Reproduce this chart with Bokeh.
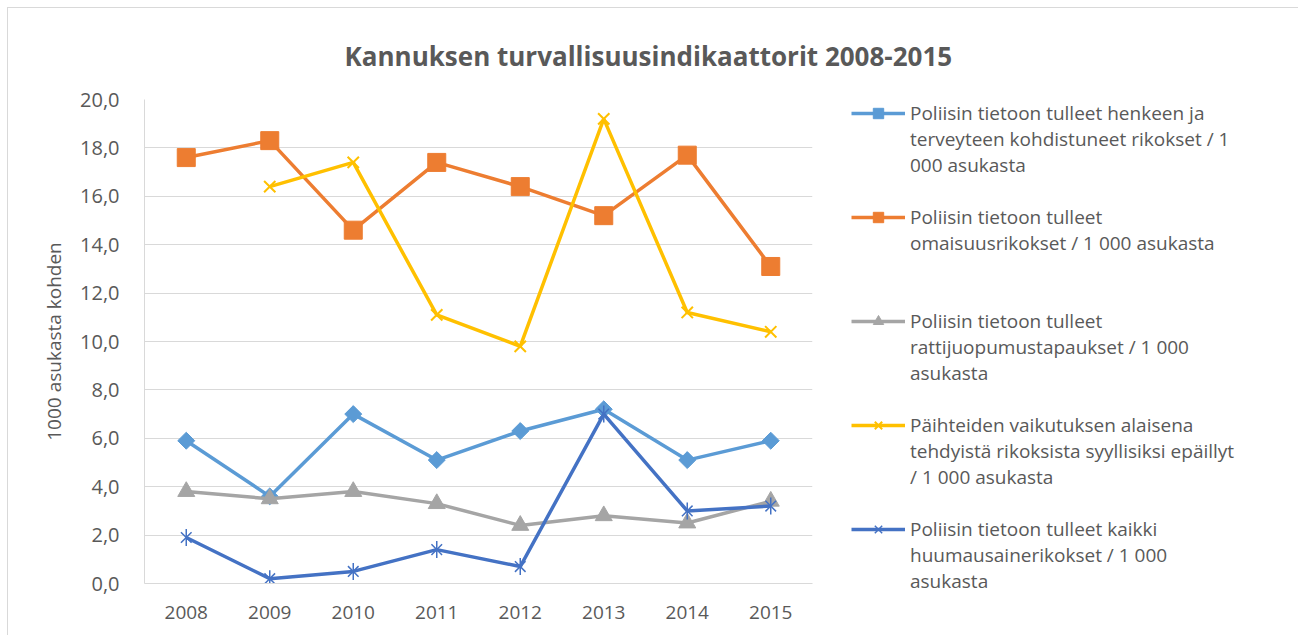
import math
from bokeh.plotting import figure
from bokeh.models import (FactorRange, Range1d, FixedTicker, Legend, LegendItem,
                          Title, CustomJSTickFormatter)
from bokeh.embed import file_html
from bokeh.resources import INLINE

nan = float("nan")

years = ["2008", "2009", "2010", "2011", "2012", "2013", "2014", "2015"]
henkeen = [5.9, 3.6, 7.0, 5.1, 6.3, 7.2, 5.1, 5.9]
omaisuus = [17.6, 18.3, 14.6, 17.4, 16.4, 15.2, 17.7, 13.1]
ratti = [3.8, 3.5, 3.8, 3.3, 2.4, 2.8, 2.5, 3.4]
paihteet = [nan, 16.4, 17.4, 11.1, 9.8, 19.2, 11.2, 10.4]
huumaus = [1.9, 0.2, 0.5, 1.4, 0.7, 7.0, 3.0, 3.2]

y_ticks = [0, 2, 4, 6, 8, 10, 12, 14, 16, 18, 20]

title_text = "Kannuksen turvallisuusindikaattorit 2008-2015"
y_label = "1000 asukasta kohden"
# legend texts, one list of wrapped lines per series
legend_lines = [
    ["Poliisin tietoon tulleet henkeen ja", "terveyteen kohdistuneet rikokset / 1", "000 asukasta"],
    ["Poliisin tietoon tulleet", "omaisuusrikokset / 1 000 asukasta"],
    ["Poliisin tietoon tulleet", "rattijuopumustapaukset / 1 000", "asukasta"],
    ["Päihteiden vaikutuksen alaisena", "tehdyistä rikoksista syyllisiksi epäillyt", "/ 1 000 asukasta"],
    ["Poliisin tietoon tulleet kaikki", "huumausainerikokset / 1 000", "asukasta"],
]

FONT = "Open Sans"
TXT = "#595959"
GRID = "#d9d9d9"

p = figure(x_range=FactorRange(*years), y_range=Range1d(0, 20),
           width=1286, height=627, frame_width=668, frame_height=484,
           output_backend="svg", toolbar_location=None,
           min_border_left=136, min_border_right=482, min_border_top=91,
           min_border_bottom=52)
p.styles = {"margin-left": "7px", "margin-top": "7px",
            "border": "1px solid #d9d9d9", "border-bottom": "none"}
p.outline_line_color = None
p.background_fill_color = "white"

p.ygrid.ticker = FixedTicker(ticks=y_ticks)
p.ygrid.grid_line_color = GRID
p.ygrid.grid_line_width = 1
p.xgrid.grid_line_color = None

ya = p.yaxis[0]
ya.ticker = FixedTicker(ticks=y_ticks)
ya.formatter = CustomJSTickFormatter(code="return tick.toFixed(1).replace('.', ',');")
ya.major_tick_line_color = None
ya.minor_tick_line_color = None
ya.axis_line_color = GRID
ya.major_label_standoff = 19
ya.major_label_text_font = FONT
ya.major_label_text_font_size = "20px"
ya.major_label_text_color = TXT
ya.axis_label = y_label
ya.axis_label_text_font = FONT
ya.axis_label_text_font_size = "19px"
ya.axis_label_text_font_style = "normal"
ya.axis_label_text_color = TXT
ya.axis_label_standoff = 10

xa = p.xaxis[0]
xa.major_tick_line_color = None
xa.minor_tick_line_color = None
xa.axis_line_color = GRID
xa.major_label_standoff = 16
xa.major_label_text_font = FONT
xa.major_label_text_font_size = "19px"
xa.major_label_text_color = TXT

C1, C2, C3, C4, C5 = "#5B9BD5", "#ED7D31", "#A5A5A5", "#FFC000", "#4472C4"
LW = 3.5

r1l = p.line(years, henkeen, line_color=C1, line_width=LW)
r1m = p.scatter(years, henkeen, marker="square", angle=math.pi / 4, size=12,
                fill_color=C1, line_color=C1)
r2l = p.line(years, omaisuus, line_color=C2, line_width=LW)
r2m = p.scatter(years, omaisuus, marker="square", size=18, fill_color=C2, line_color=C2)
r3l = p.line(years, ratti, line_color=C3, line_width=LW)
r3m = p.scatter(years, ratti, marker="triangle", size=17, fill_color=C3, line_color=C3)
r4l = p.line(years, paihteet, line_color=C4, line_width=LW)
r4m = p.scatter(years, paihteet, marker="x", size=16, line_color=C4, line_width=2)
r5l = p.line(years, huumaus, line_color=C5, line_width=LW)
r5m = p.scatter(years, huumaus, marker="x", size=15, line_color=C5, line_width=1.5)
r5n = p.scatter(years, huumaus, marker="dash", angle=math.pi / 2, size=17,
                line_color=C5, line_width=1.5)

series_renderers = [[r1l, r1m], [r2l, r2m], [r3l, r3m], [r4l, r4m], [r5l, r5m, r5n]]

# each wrapped line is one legend row; the glyph sits on the first row of a series
items = []
for i, (lines, rends) in enumerate(zip(legend_lines, series_renderers)):
    rows = lines + [""] * (3 - len(lines))
    if i < len(legend_lines) - 1:
        rows = rows + [""]
    for j, txt in enumerate(rows):
        items.append(LegendItem(label=txt, renderers=rends if j == 0 else []))

ROW = 26
legend = Legend(items=items, location=(39, -11), orientation="vertical", ncols=1,
                border_line_color=None, background_fill_alpha=0,
                glyph_width=54, glyph_height=ROW, label_standoff=5,
                padding=0, margin=0, spacing=0, label_height=ROW,
                label_text_font=FONT, label_text_font_size="19px",
                label_text_color=TXT, label_text_line_height=1.0,
                label_text_baseline="middle")
p.add_layout(legend, "right")

p.title = Title(text=title_text, align="left", offset=200,
                text_font=FONT, text_font_size="26px", text_font_style="bold",
                text_color=TXT, standoff=52)

open("out.html", "w").write(file_html(p, INLINE))
